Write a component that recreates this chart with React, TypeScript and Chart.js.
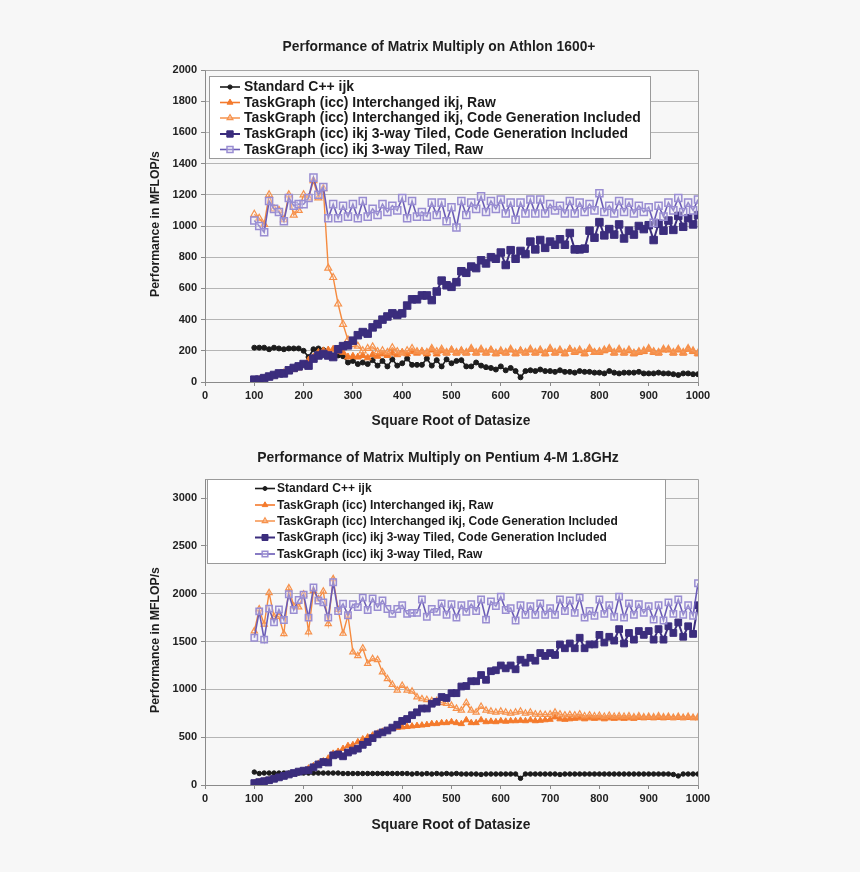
import React, { useEffect, useRef } from 'react';
import { Chart, registerables } from 'chart.js';

Chart.register(...registerables);

const FONT = "'Liberation Sans', Arial, Helvetica, sans-serif";

const sizes = [
  100, 110, 120, 130, 140, 150, 160, 170, 180, 190,
  200, 210, 220, 230, 240, 250, 260, 270, 280, 290,
  300, 310, 320, 330, 340, 350, 360, 370, 380, 390,
  400, 410, 420, 430, 440, 450, 460, 470, 480, 490,
  500, 510, 520, 530, 540, 550, 560, 570, 580, 590,
  600, 610, 620, 630, 640, 650, 660, 670, 680, 690,
  700, 710, 720, 730, 740, 750, 760, 770, 780, 790,
  800, 810, 820, 830, 840, 850, 860, 870, 880, 890,
  900, 910, 920, 930, 940, 950, 960, 970, 980, 990,
  1000,
];

const xTickValues = [0, 100, 200, 300, 400, 500, 600, 700, 800, 900, 1000];
const athYTicks = [0, 200, 400, 600, 800, 1000, 1200, 1400, 1600, 1800, 2000];
const p4YTicks = [0, 500, 1000, 1500, 2000, 2500, 3000];

const seriesLabels = [
  'Standard C++ ijk',
  'TaskGraph (icc) Interchanged ikj, Raw',
  'TaskGraph (icc) Interchanged ikj, Code Generation Included',
  'TaskGraph (icc) ikj 3-way Tiled, Code Generation Included',
  'TaskGraph (icc) ikj 3-way Tiled, Raw',
];

const athlonTitle = 'Performance of Matrix Multiply on Athlon 1600+';
const pentiumTitle = 'Performance of Matrix Multiply on Pentium 4-M 1.8GHz';
const xAxisTitle = 'Square Root of Datasize';
const yAxisTitle = 'Performance in MFLOP/s';

// ---------- Athlon 1600+ ----------
const athStd = [
  220, 220, 220, 210, 220, 215, 210, 215, 215, 215,
  200, 160, 210, 215, 205, 175, 170, 170, 165, 125,
  135, 115, 125, 115, 140, 105, 135, 100, 145, 105,
  120, 150, 110, 110, 110, 150, 105, 140, 100, 145,
  120, 135, 140, 100, 100, 125, 105, 95, 90, 80,
  100, 75, 90, 70, 30, 70, 75, 70, 80, 70,
  70, 65, 75, 65, 65, 60, 70, 65, 65, 60,
  60, 55, 70, 60, 55, 60, 60, 60, 65, 55,
  55, 55, 60, 55, 55, 50, 45, 55, 55, 50,
  50,
];
const athIntRaw = [
  10, 15, 20, 30, 40, 50, 60, 70, 80, 90,
  110, 140, 160, 190, 200, 205, 210, 195, 190, 160,
  165, 160, 170, 155, 175, 165, 180, 170, 185, 175,
  190, 180, 195, 185, 195, 180, 205, 180, 200, 185,
  205, 185, 200, 185, 210, 185, 205, 185, 205, 180,
  195, 185, 205, 180, 200, 185, 205, 185, 200, 180,
  210, 185, 200, 180, 210, 190, 200, 180, 210, 190,
  190, 200, 210, 185, 205, 185, 200, 180, 190, 195,
  210, 190, 185, 205, 205, 185, 205, 185, 210, 195,
  180,
];
const athIntCG = [
  1075, 1050, 1010, 1200, 1110, 1100, 1040, 1200, 1070, 1100,
  1200, 1180, 1290, 1180, 1240, 730, 670, 500, 370, 270,
  240, 230, 200, 215, 225, 195, 200, 190, 220, 195,
  185, 200, 215, 195, 195, 190, 215, 195, 210, 190,
  205, 190, 200, 190, 215, 190, 210, 190, 205, 185,
  200, 190, 210, 185, 200, 190, 210, 190, 205, 185,
  215, 190, 205, 185, 210, 195, 205, 185, 215, 190,
  195, 205, 215, 190, 210, 190, 205, 185, 195, 200,
  215, 195, 190, 210, 210, 190, 210, 190, 215, 200,
  185,
];
const athTiledCG = [
  15, 15, 25, 35, 45, 55, 55, 75, 90, 100,
  115, 105, 150, 170, 180, 170, 160, 210, 230, 235,
  265, 300, 320, 310, 350, 370, 400, 420, 440, 430,
  440, 490, 530, 530, 555, 555, 525, 580, 650, 620,
  610, 640, 710, 700, 740, 730, 780, 760, 800, 790,
  830, 750, 845, 790, 840, 820, 900, 850, 910, 860,
  900, 880, 915, 880, 955, 850, 850, 855, 970, 925,
  1025, 940, 980, 945, 1010, 920, 970, 945, 1000, 980,
  1005, 910, 1015, 970, 1035, 975, 1065, 995, 1050, 1010,
  1070,
];
const athTiledRaw = [
  1035, 1000, 960, 1160, 1110, 1090, 1030, 1180, 1130, 1140,
  1140, 1180, 1310, 1200, 1250, 1050, 1140, 1050, 1130, 1060,
  1140, 1050, 1160, 1060, 1110, 1070, 1140, 1090, 1130, 1100,
  1180, 1050, 1160, 1060, 1090, 1060, 1150, 1070, 1150, 1030,
  1120, 990, 1160, 1070, 1150, 1110, 1190, 1090, 1160, 1110,
  1170, 1080, 1150, 1040, 1150, 1080, 1170, 1080, 1170, 1080,
  1140, 1100, 1130, 1080, 1160, 1080, 1150, 1090, 1140, 1100,
  1210, 1090, 1130, 1080, 1160, 1090, 1150, 1080, 1130, 1090,
  1120, 1020, 1130, 1060, 1150, 1100, 1180, 1090, 1150, 1100,
  1170,
];

// ---------- Pentium 4-M 1.8GHz ----------
const p4Std = [
  135, 120, 125, 125, 125, 125, 125, 125, 125, 125,
  125, 125, 125, 125, 125, 125, 125, 125, 120, 120,
  120, 120, 120, 120, 120, 120, 120, 120, 120, 120,
  120, 120, 115, 120, 115, 120, 115, 120, 115, 120,
  115, 120, 115, 115, 115, 115, 110, 115, 115, 115,
  115, 115, 115, 115, 70, 115, 115, 115, 115, 115,
  115, 115, 110, 115, 115, 115, 115, 115, 115, 115,
  115, 115, 115, 115, 115, 115, 115, 115, 115, 115,
  115, 115, 115, 115, 115, 110, 95, 115, 115, 115,
  115,
];
const p4IntRaw = [
  20, 30, 40, 50, 60, 75, 90, 105, 120, 135,
  150, 175, 200, 225, 250, 280, 330, 350, 380, 410,
  420, 450, 480, 500, 520, 540, 560, 570, 590, 600,
  605, 610, 615, 620, 625, 630, 640, 640, 650, 650,
  660, 650, 640, 680, 650, 650, 680, 660, 665, 660,
  670, 665, 670, 670, 675, 670, 680, 670, 675, 680,
  685, 710, 690, 685, 690, 695, 700, 690, 700, 695,
  700, 690, 700, 695, 700, 695, 700, 695, 705, 700,
  705, 700, 705, 700, 705, 700, 705, 700, 705, 700,
  700,
];
const p4IntCG = [
  1610, 1840, 1680, 2010, 1760, 1760, 1580, 2060, 1870, 1860,
  1995, 1600, 2030, 1945, 2025, 1685, 2155, 1835, 1585, 1775,
  1390, 1350, 1430, 1270, 1320, 1310, 1180, 1110, 1050, 990,
  1040, 990, 980, 920, 900, 890, 880, 880, 860, 850,
  830, 800, 780, 860, 780, 760, 820, 780, 770, 760,
  770, 760, 750, 760, 770, 750, 760, 740, 740, 735,
  740, 760, 740, 730, 735, 730, 740, 720, 730, 720,
  725, 715, 725, 715, 720, 715, 720, 710, 720, 710,
  715, 710, 720, 710, 715, 705, 715, 705, 715, 705,
  710,
];
const p4TiledCG = [
  20, 30, 40, 50, 65, 80, 95, 110, 125, 140,
  150, 155, 185, 215, 240, 235, 310, 320, 300, 340,
  360, 380, 420, 450, 490, 530, 550, 570, 600, 630,
  670, 690, 730, 760, 800, 800, 850, 870, 920, 910,
  960, 960, 1030, 1035, 1085, 1085, 1150, 1100, 1190, 1200,
  1250, 1220, 1250, 1210, 1310, 1280, 1330, 1300, 1380, 1350,
  1380, 1360, 1470, 1430, 1480, 1430, 1540, 1430, 1470, 1470,
  1570, 1490, 1550, 1510, 1630, 1480, 1590, 1520, 1610, 1570,
  1610, 1520, 1630, 1520, 1660, 1590, 1700, 1550, 1660, 1580,
  1880,
];
const p4TiledRaw = [
  1540, 1815, 1520, 1845, 1700, 1835, 1725, 1995, 1830, 1935,
  1990, 1750, 2065, 1930, 1910, 1750, 2120, 1820, 1895, 1775,
  1890, 1860, 1960, 1830, 1950, 1860, 1930, 1840, 1790, 1840,
  1880, 1790, 1800, 1800, 1940, 1760, 1840, 1810, 1900, 1780,
  1890, 1750, 1880, 1810, 1890, 1820, 1940, 1730, 1920, 1870,
  1970, 1830, 1850, 1720, 1880, 1780, 1870, 1780, 1900, 1780,
  1850, 1780, 1940, 1820, 1930, 1800, 1960, 1750, 1820, 1770,
  1940, 1790, 1880, 1760, 1970, 1750, 1900, 1780, 1890, 1800,
  1870, 1730, 1880, 1720, 1910, 1790, 1940, 1780, 1880, 1770,
  2110,
];

type Sty = {
  line: string; point: string; r: number; fill: string; border: string; lw: number; pbw: number;
};

const styles: Sty[] = [
  { line: '#1c1c1c', point: 'circle', r: 2.5, fill: '#1c1c1c', border: '#1c1c1c', lw: 1.6, pbw: 1 },
  { line: '#f47a2c', point: 'triangle', r: 4, fill: '#f47a2c', border: '#f47a2c', lw: 1.6, pbw: 1 },
  { line: '#f58a3e', point: 'triangle', r: 4, fill: 'rgba(255,255,255,0.15)', border: '#f6914b', lw: 1.4, pbw: 1.2 },
  { line: '#3b2d7d', point: 'rect', r: 5.3, fill: '#3b2d7d', border: '#3b2d7d', lw: 2, pbw: 1 },
  { line: '#6a5bb6', point: 'rect', r: 5, fill: 'rgba(236,233,248,0.35)', border: '#998dd2', lw: 1.6, pbw: 1.5 },
];

type Deco = {
  title: string; titleX: number; titleY: number; titleW: number;
  xTitleX: number; xTitleY: number; xTitleW: number;
  yTitleX: number; yTitleY: number; yTitleW: number;
  legend: { left: number; top: number; right: number; bottom: number; rows: number[]; sx0: number; sx1: number; tx: number; tw: number; mScale: number };
};

function fitSize(ctx: CanvasRenderingContext2D, text: string, weight: string, target: number) {
  ctx.font = `${weight} 20px ${FONT}`;
  const w = ctx.measureText(text).width;
  return (20 * target) / w;
}

function drawMarker(ctx: CanvasRenderingContext2D, s: Sty, x: number, y: number, scale: number) {
  const r = s.r * scale;
  ctx.save();
  ctx.fillStyle = s.fill;
  ctx.strokeStyle = s.border;
  ctx.lineWidth = s.pbw;
  ctx.beginPath();
  if (s.point === 'circle') {
    ctx.arc(x, y, r, 0, Math.PI * 2);
  } else if (s.point === 'triangle') {
    const a = -Math.PI / 2;
    for (let k = 0; k < 3; k++) {
      const ang = a + (k * 2 * Math.PI) / 3;
      const px = x + Math.cos(ang) * r;
      const py = y + Math.sin(ang) * r;
      if (k === 0) ctx.moveTo(px, py);
      else ctx.lineTo(px, py);
    }
    ctx.closePath();
  } else {
    const h = r * Math.SQRT1_2;
    ctx.rect(x - h, y - h, 2 * h, 2 * h);
  }
  ctx.fill();
  ctx.stroke();
  ctx.restore();
}

function decoPlugin(deco: Deco) {
  return {
    id: 'deco',
    beforeDatasetsDraw(chart: any) {
      const { ctx, chartArea: a } = chart;
      ctx.save();
      ctx.strokeStyle = '#a3a3a3';
      ctx.lineWidth = 1;
      ctx.beginPath();
      ctx.moveTo(Math.round(a.left) + 0.5, Math.round(a.top) + 0.5);
      ctx.lineTo(Math.round(a.right) + 0.5, Math.round(a.top) + 0.5);
      ctx.lineTo(Math.round(a.right) + 0.5, Math.round(a.bottom) + 0.5);
      ctx.stroke();
      ctx.restore();
    },
    afterDatasetsDraw(chart: any) {
      const ctx: CanvasRenderingContext2D = chart.ctx;
      const L = deco.legend;
      ctx.save();
      ctx.fillStyle = '#ffffff';
      ctx.fillRect(L.left, L.top, L.right - L.left, L.bottom - L.top);
      ctx.strokeStyle = '#9a9a9a';
      ctx.lineWidth = 1;
      ctx.strokeRect(L.left + 0.5, L.top + 0.5, L.right - L.left, L.bottom - L.top);
      const longest = seriesLabels.reduce((m, t) => (t.length > m.length ? t : m), '');
      const fs = fitSize(ctx, longest, 'bold', L.tw);
      ctx.font = `bold ${fs}px ${FONT}`;
      ctx.textBaseline = 'middle';
      ctx.textAlign = 'left';
      seriesLabels.forEach((t, i) => {
        const y = L.rows[i];
        const s = styles[i];
        ctx.strokeStyle = s.line;
        ctx.lineWidth = s.lw;
        ctx.beginPath();
        ctx.moveTo(L.sx0, y);
        ctx.lineTo(L.sx1, y);
        ctx.stroke();
        drawMarker(ctx, s, (L.sx0 + L.sx1) / 2, y, L.mScale);
        ctx.fillStyle = '#1a1a1a';
        ctx.fillText(t, L.tx, y + 0.5);
      });
      ctx.restore();
    },
    afterDraw(chart: any) {
      const ctx: CanvasRenderingContext2D = chart.ctx;
      ctx.save();
      ctx.fillStyle = '#1e1e1e';
      ctx.textAlign = 'center';
      ctx.textBaseline = 'middle';
      let fs = fitSize(ctx, deco.title, 'bold', deco.titleW);
      ctx.font = `bold ${fs}px ${FONT}`;
      ctx.fillText(deco.title, deco.titleX, deco.titleY);
      fs = fitSize(ctx, xAxisTitle, 'bold', deco.xTitleW);
      ctx.font = `bold ${fs}px ${FONT}`;
      ctx.fillText(xAxisTitle, deco.xTitleX, deco.xTitleY);
      fs = fitSize(ctx, yAxisTitle, 'bold', deco.yTitleW);
      ctx.font = `bold ${fs}px ${FONT}`;
      ctx.translate(deco.yTitleX, deco.yTitleY);
      ctx.rotate(-Math.PI / 2);
      ctx.fillText(yAxisTitle, 0, 0);
      ctx.restore();
    },
  };
}

function buildConfig(series: number[][], yMax: number, yTicks: number[], pad: any, xHeight: number, deco: Deco, mScale: number) {
  const datasets = series.map((ys, i) => {
    const s = styles[i];
    return {
      label: seriesLabels[i],
      data: sizes.map((x, j) => ({ x, y: ys[j] })),
      borderColor: s.line,
      backgroundColor: s.fill,
      borderWidth: s.lw,
      pointStyle: s.point,
      pointRadius: s.r * mScale,
      pointBackgroundColor: s.fill,
      pointBorderColor: s.border,
      pointBorderWidth: s.pbw,
      tension: 0,
      order: -i,
    };
  });
  const tickFont = { family: FONT, size: 11, weight: 'bold' as const };
  return {
    type: 'line' as const,
    data: { datasets },
    options: {
      responsive: false,
      animation: false as const,
      devicePixelRatio: 1,
      layout: { padding: pad },
      plugins: { legend: { display: false }, tooltip: { enabled: false }, title: { display: false } },
      scales: {
        x: {
          type: 'linear' as const,
          min: 0,
          max: 1000,
          ticks: { font: tickFont, color: '#222', padding: 3, maxRotation: 0, autoSkip: false, callback: (v: any) => String(v) },
          afterBuildTicks: (s: any) => { s.ticks = xTickValues.map((v) => ({ value: v })); },
          grid: { drawOnChartArea: false, drawTicks: true, tickLength: 4, color: '#8a8a8a' },
          border: { color: '#8a8a8a', width: 1 },
          afterFit: (s: any) => { s.height = xHeight; },
        },
        y: {
          type: 'linear' as const,
          min: 0,
          max: yMax,
          ticks: { font: tickFont, color: '#222', padding: 4, autoSkip: false, callback: (v: any) => String(v) },
          afterBuildTicks: (s: any) => { s.ticks = yTicks.map((v) => ({ value: v })); },
          grid: { color: '#b5b5b5', tickLength: 4, tickColor: '#8a8a8a' },
          border: { color: '#8a8a8a', width: 1 },
          afterFit: (s: any) => { s.width = 60; },
        },
      },
    },
    plugins: [decoPlugin(deco)],
  };
}

const topDeco: Deco = {
  title: athlonTitle, titleX: 439, titleY: 47, titleW: 313,
  xTitleX: 451, xTitleY: 421, xTitleW: 159,
  yTitleX: 156, yTitleY: 224, yTitleW: 146,
  legend: { left: 209, top: 76, right: 650, bottom: 158, rows: [87, 102.5, 118, 134, 149.5], sx0: 220, sx1: 240, tx: 244, tw: 397, mScale: 0.85 },
};

const botDeco: Deco = {
  title: pentiumTitle, titleX: 438, titleY: 18, titleW: 362,
  xTitleX: 451, xTitleY: 385, xTitleW: 159,
  yTitleX: 156, yTitleY: 200, yTitleW: 146,
  legend: { left: 207, top: 39, right: 665, bottom: 123, rows: [48.5, 65, 81, 97.5, 114], sx0: 255, sx1: 275, tx: 277, tw: 341, mScale: 0.8 },
};

function ChartCanvas({ width, height, make }: { width: number; height: number; make: () => any }) {
  const ref = useRef<HTMLCanvasElement | null>(null);
  useEffect(() => {
    if (!ref.current) return;
    const chart = new Chart(ref.current, make());
    return () => chart.destroy();
  }, []);
  return <canvas ref={ref} width={width} height={height} style={{ display: 'block', width, height }} />;
}

export default function App() {
  return (
    <div style={{ position: 'absolute', left: 0, top: 0, width: 860, height: 872, background: '#f7f7f7' }}>
      <div style={{ position: 'absolute', left: 0, top: 0 }}>
        <ChartCanvas
          width={860}
          height={440}
          make={() =>
            buildConfig(
              [athStd, athIntRaw, athIntCG, athTiledCG, athTiledRaw],
              2000, athYTicks,
              { left: 145, right: 162, top: 70, bottom: 0 },
              58, topDeco, 1
            )
          }
        />
      </div>
      <div style={{ position: 'absolute', left: 0, top: 440 }}>
        <ChartCanvas
          width={860}
          height={432}
          make={() =>
            buildConfig(
              [p4Std, p4IntRaw, p4IntCG, p4TiledCG, p4TiledRaw],
              3200, p4YTicks,
              { left: 145, right: 162, top: 39, bottom: 0 },
              87, botDeco, 0.9
            )
          }
        />
      </div>
    </div>
  );
}
